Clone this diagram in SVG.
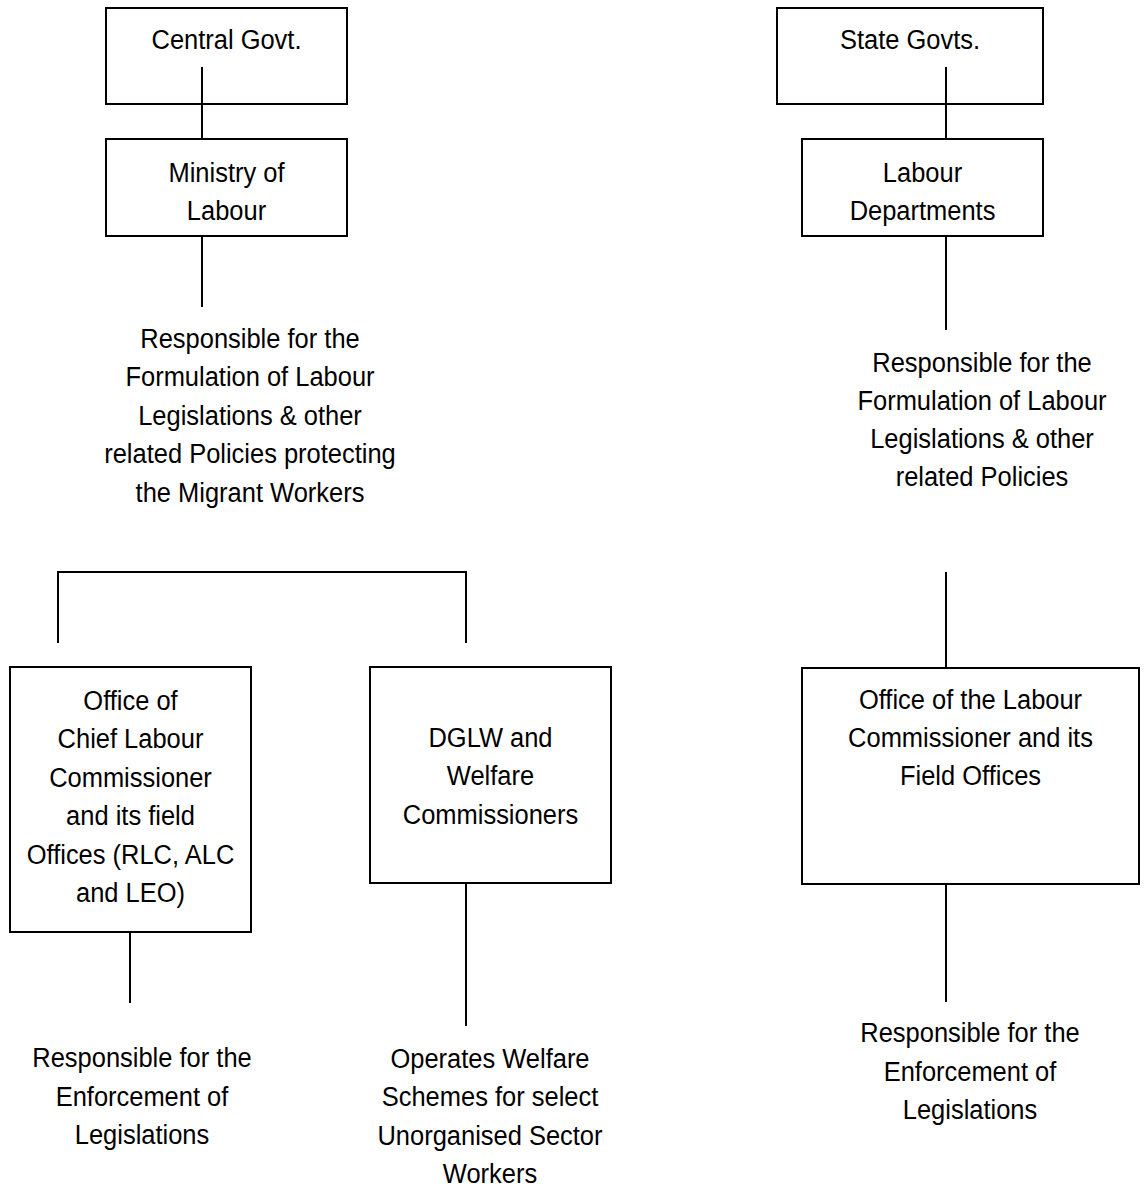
<svg xmlns="http://www.w3.org/2000/svg" width="1148" height="1189" viewBox="0 0 1148 1189">
<style>
.box{fill:#fff;stroke:#000;stroke-width:2}
.con{fill:none;stroke:#000;stroke-width:2}
.t{font-family:"Liberation Sans",Arial,sans-serif;font-size:28px;text-anchor:middle;fill:#000}
</style>
<rect width="1148" height="1189" fill="#fff"/>
<g id="central">
<rect class="box" x="106" y="8" width="241" height="96"/>
<text class="t" transform="translate(226.5 0) scale(0.91 1)"><tspan x="0" y="49">Central Govt.</tspan></text>
</g>
<g id="ministry">
<rect class="box" x="106" y="139" width="241" height="97"/>
<text class="t" transform="translate(226.5 0) scale(0.91 1)"><tspan x="0" y="182">Ministry of</tspan><tspan x="0" y="220">Labour</tspan></text>
</g>
<g id="central-role">
<text class="t" transform="translate(250 0) scale(0.91 1)"><tspan x="0" y="348">Responsible for the</tspan><tspan x="0" y="386.5">Formulation of Labour</tspan><tspan x="0" y="425">Legislations &amp; other</tspan><tspan x="0" y="463.5">related Policies protecting</tspan><tspan x="0" y="502">the Migrant Workers</tspan></text>
</g>
<g id="state">
<rect class="box" x="777" y="8" width="266" height="96"/>
<text class="t" transform="translate(910 0) scale(0.91 1)"><tspan x="0" y="49">State Govts.</tspan></text>
</g>
<g id="labour-dept">
<rect class="box" x="802" y="139" width="241" height="97"/>
<text class="t" transform="translate(922.5 0) scale(0.91 1)"><tspan x="0" y="182">Labour</tspan><tspan x="0" y="220">Departments</tspan></text>
</g>
<g id="state-role">
<text class="t" transform="translate(982 0) scale(0.91 1)"><tspan x="0" y="372">Responsible for the</tspan><tspan x="0" y="410">Formulation of Labour</tspan><tspan x="0" y="448">Legislations &amp; other</tspan><tspan x="0" y="486">related Policies</tspan></text>
</g>
<g id="clc">
<rect class="box" x="10" y="667" width="241" height="265"/>
<text class="t" transform="translate(130.5 0) scale(0.91 1)"><tspan x="0" y="710">Office of</tspan><tspan x="0" y="748.5">Chief Labour</tspan><tspan x="0" y="787">Commissioner</tspan><tspan x="0" y="825.5">and its field</tspan><tspan x="0" y="864">Offices (RLC, ALC</tspan><tspan x="0" y="902.5">and LEO)</tspan></text>
</g>
<g id="dglw">
<rect class="box" x="370" y="667" width="241" height="216"/>
<text class="t" transform="translate(490.5 0) scale(0.91 1)"><tspan x="0" y="747">DGLW and</tspan><tspan x="0" y="785.5">Welfare</tspan><tspan x="0" y="824">Commissioners</tspan></text>
</g>
<g id="olc">
<rect class="box" x="802" y="668" width="337" height="216"/>
<text class="t" transform="translate(970.5 0) scale(0.91 1)"><tspan x="0" y="709">Office of the Labour</tspan><tspan x="0" y="747">Commissioner and its</tspan><tspan x="0" y="785">Field Offices</tspan></text>
</g>
<g id="clc-role">
<text class="t" transform="translate(142 0) scale(0.91 1)"><tspan x="0" y="1067">Responsible for the</tspan><tspan x="0" y="1106">Enforcement of</tspan><tspan x="0" y="1144.5">Legislations</tspan></text>
</g>
<g id="dglw-role">
<text class="t" transform="translate(490 0) scale(0.91 1)"><tspan x="0" y="1068">Operates Welfare</tspan><tspan x="0" y="1106.5">Schemes for select</tspan><tspan x="0" y="1145">Unorganised Sector</tspan><tspan x="0" y="1183">Workers</tspan></text>
</g>
<g id="olc-role">
<text class="t" transform="translate(970 0) scale(0.91 1)"><tspan x="0" y="1042.5">Responsible for the</tspan><tspan x="0" y="1081">Enforcement of</tspan><tspan x="0" y="1119.5">Legislations</tspan></text>
</g>
<g id="connectors">
<path class="con" d="M202 67V139"/>
<path class="con" d="M202 236V307"/>
<path class="con" d="M946 67V139"/>
<path class="con" d="M946 236V330"/>
<path class="con" d="M58 643V572H466V643"/>
<path class="con" d="M946 572V668"/>
<path class="con" d="M130 932V1003"/>
<path class="con" d="M466 883V1026"/>
<path class="con" d="M946 884V1002"/>
</g>
</svg>
